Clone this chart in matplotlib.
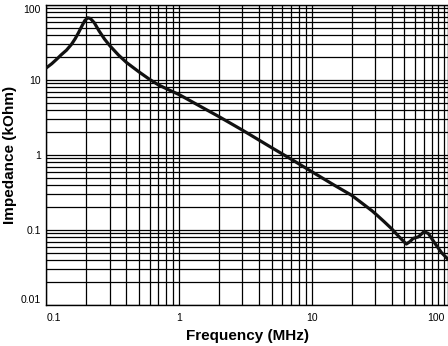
import numpy as np
import matplotlib
matplotlib.use("Agg")
import matplotlib.pyplot as plt
from matplotlib.ticker import FixedLocator, NullFormatter

plt.rcParams['font.family'] = ['Liberation Sans', 'DejaVu Sans']

# impedance curve, frequency in MHz, impedance in kOhm
freq_mhz = [0.1, 0.11, 0.12, 0.13, 0.142, 0.155, 0.165, 0.174, 0.185, 0.195,
            0.205, 0.215, 0.23, 0.25, 0.275, 0.302, 0.35, 0.404, 0.5, 0.6,
            0.7, 0.85, 1, 1.5, 2, 3, 5, 7, 10, 15,
            20, 25, 28.5, 31, 35, 40, 45, 51.6, 55, 58,
            63.6, 70.2, 75.6, 85, 95, 106]
impedance_kohm = [14.5, 16.5, 19, 21.8, 25, 30, 35.5, 42, 52, 62,
                  67.5, 66, 58, 45, 35, 28.5, 21.5, 17, 12.8, 10.2,
                  8.6, 7.3, 6.4, 4.3, 3.25, 2.15, 1.25, 0.88, 0.6, 0.39,
                  0.29, 0.215, 0.18, 0.158, 0.13, 0.104, 0.083, 0.065, 0.07, 0.077,
                  0.081, 0.095, 0.09, 0.066, 0.05, 0.041]

x_ticks = [0.1, 1, 10, 100]
x_tick_labels = ['0.1', '1', '10', '100']
y_ticks = [0.01, 0.1, 1, 10, 100]
y_tick_labels = ['0.01', '0.1', '1', '10', '100']

fig = plt.figure(figsize=(4.48, 3.46), dpi=100)
ax = fig.add_axes([46.3 / 448, 41 / 346, (448 - 46.3) / 448, 300 / 346])

ax.plot(freq_mhz, impedance_kohm, color='#111111', linewidth=2.3,
        solid_capstyle='round', solid_joinstyle='round', zorder=3)

ax.set_xscale('log')
ax.set_yscale('log')
ax.set_xlim(0.1, 106.4)
ax.set_ylim(0.01, 100)

minors = [m * 10.0 ** e for e in range(-2, 3) for m in range(2, 10)]
ax.xaxis.set_minor_locator(FixedLocator(minors))
ax.yaxis.set_minor_locator(FixedLocator(minors))
ax.xaxis.set_minor_formatter(NullFormatter())
ax.yaxis.set_minor_formatter(NullFormatter())
ax.set_xticks(x_ticks, x_tick_labels)
ax.set_yticks(y_ticks, y_tick_labels)

ax.grid(True, which='both', color='black', linewidth=0.9)
ax.tick_params(which='both', length=0, labelsize=7.5, colors='black')
ax.tick_params(axis='x', pad=6)
ax.tick_params(axis='y', pad=4)
for sp in ax.spines.values():
    sp.set_color('black')
    sp.set_linewidth(1.0)

# keep the end labels inside the frame
xl = ax.get_xticklabels()
xl[0].set_ha('left')
xl[-1].set_ha('right')
yl = ax.get_yticklabels()
yl[0].set_va('bottom')
yl[-1].set_va('top')

ax.set_xlabel('Frequency (MHz)', fontsize=11, fontweight='bold', va='center')
ax.set_ylabel('Impedance (kOhm)', fontsize=11, fontweight='bold', va='center')
ax.xaxis.set_label_coords(0.5, -31 / 300)
ax.yaxis.set_label_coords(-36 / 401.7, 0.5)

fig.savefig('out.png', dpi=100)
